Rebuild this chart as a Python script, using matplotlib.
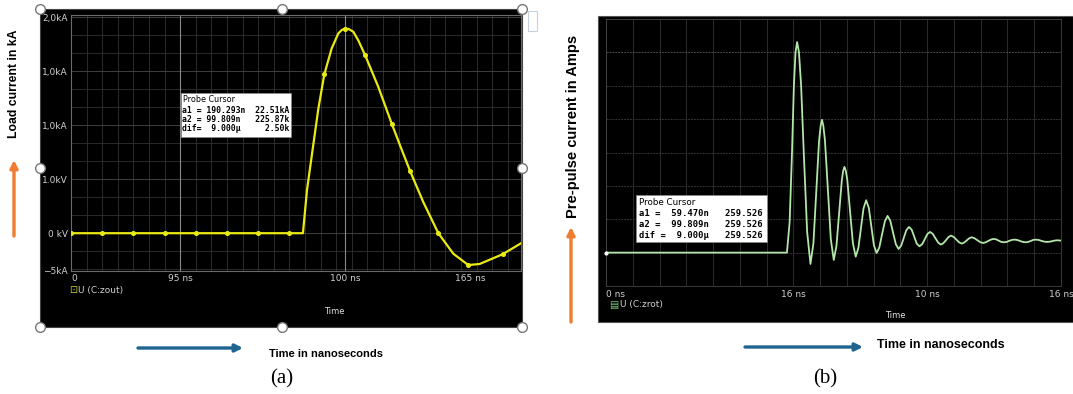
import matplotlib
matplotlib.use("Agg")
import matplotlib.pyplot as plt
from matplotlib.patches import Rectangle

W, H = 1073, 394

# panel (a): load current (grid units)
a_t = [0, 2, 4, 6, 8, 10, 12, 14, 14.87, 15.13, 15.53, 15.86, 16.24, 16.71,
       17.14, 17.35, 17.56, 17.80, 18.10, 18.42, 18.85, 19.70, 20.56, 21.09,
       21.74, 22.58, 23.55, 24.51, 25.47, 26.20, 27.67, 28.83]
a_i = [0, 0, 0, 0, 0, 0, 0, 0, 0, 0.80, 1.63, 2.31, 2.94, 3.42,
       3.70, 3.76, 3.79, 3.78, 3.73, 3.57, 3.30, 2.71, 2.03, 1.63,
       1.15, 0.58, 0.0, -0.38, -0.59, -0.57, -0.39, -0.19]
a_marks = [0, 1, 2, 3, 4, 5, 6, 7, 12, 16, 20, 22, 24, 26, 28, 30]
a_xticks = [0, 7, 17.56, 25.6]
a_xlabels = ["0", "95 ns", "100 ns", "165 ns"]
a_yticks = [4.0, 3.0, 2.0, 1.0, 0.0, -0.70]
a_ylabels = ["2,0kA", "1,0kA", "1,0kA", "1.0kV", "0 kV", "\u22125kA"]

# panel (b): pre-pulse current (grid units)
b_t = [0, 6.76, 6.86, 6.95, 7.02, 7.08, 7.14,
       7.21, 7.29, 7.39, 7.515, 7.64, 7.75, 7.855, 7.96, 8.02, 8.07,
       8.12, 8.18, 8.29, 8.40, 8.51, 8.61, 8.71, 8.81, 8.86, 8.91,
       8.96, 9.015, 9.12, 9.225, 9.33, 9.43, 9.525, 9.62, 9.72,
       9.82, 9.915, 10.01, 10.11, 10.21, 10.315, 10.42, 10.52,
       10.62, 10.725, 10.83, 10.93, 11.03, 11.125, 11.22, 11.32,
       11.42, 11.515, 11.61, 11.71, 11.81, 11.91, 12.01, 12.11,
       12.21, 12.31, 12.41, 12.51, 12.60, 12.70, 12.80, 12.89,
       12.99, 13.09, 13.19, 13.29, 13.38, 13.47, 13.57, 13.66,
       13.77, 13.88, 13.99, 14.10, 14.19, 14.28, 14.38, 14.47,
       14.57, 14.67, 14.77, 14.87, 14.97, 15.06, 15.16, 15.26,
       15.36, 15.47, 15.57, 15.68, 15.77, 15.87, 15.96, 16.06,
       16.16, 16.26, 16.37, 16.47, 16.60, 16.75, 16.87, 17.0]
b_i = [0, 0.0, 0.9, 3.0, 5.0, 6.0, 6.31,
       6.0, 5.0, 2.98, 0.62, -0.34, 0.28, 1.81, 3.34, 3.80, 3.98,
       3.80, 3.37, 1.89, 0.40, -0.22, 0.20, 1.18, 2.16, 2.45, 2.57,
       2.45, 2.18, 1.23, 0.28, -0.12, 0.14, 0.73, 1.32, 1.57,
       1.34, 0.78, 0.22, -0.01, 0.15, 0.55, 0.94, 1.10,
       0.96, 0.60, 0.25, 0.11, 0.21, 0.44, 0.67, 0.77,
       0.69, 0.48, 0.27, 0.19, 0.25, 0.40, 0.56, 0.62,
       0.56, 0.43, 0.30, 0.24, 0.28, 0.37, 0.47, 0.51,
       0.47, 0.39, 0.31, 0.27, 0.30, 0.36, 0.43, 0.46,
       0.43, 0.37, 0.31, 0.29, 0.31, 0.35, 0.39, 0.41,
       0.40, 0.36, 0.32, 0.31, 0.32, 0.35, 0.38, 0.39,
       0.38, 0.35, 0.32, 0.31, 0.32, 0.35, 0.38, 0.39,
       0.38, 0.355, 0.33, 0.32, 0.33, 0.36, 0.37, 0.36]
b_xticks = [0, 7, 12, 17]
b_xlabels = ["0 ns", "16 ns", "10 ns", "16 ns"]

cursor_a = ["a1 = 190.293n  22.51kA", "a2 = 99.809n   225.87k", "dif=  9.000\u00b5     2.50k"]
cursor_b = ["a1 =  59.470n   259.526", "a2 =  99.809n   259.526", "dif =  9.000\u00b5   259.526"]


def px_axes(l, t, r, b, **kw):
    return fig.add_axes([l / W, 1 - b / H, (r - l) / W, (b - t) / H], **kw)


fig = plt.figure(figsize=(W / 100, H / 100), dpi=100)
fig.patch.set_facecolor("white")

# background overlay in pixel coords
bg = px_axes(0, 0, W, H, zorder=-5)
bg.set_xlim(0, W)
bg.set_ylim(H, 0)
bg.axis("off")
bg.add_patch(Rectangle((40, 9), 482, 318, facecolor="black", edgecolor="#444444", lw=0.8))
bg.add_patch(Rectangle((598, 16), 475, 306, facecolor="black", edgecolor="#555555", lw=0.8))
bg.add_patch(Rectangle((528, 11), 9, 20, facecolor="white", edgecolor="#c6d0dc", lw=0.8))

# ---- panel (a)
ax = px_axes(71, 15, 521, 271)
ax.set_facecolor("black")
ax.set_xlim(0, 28.85)
ax.set_ylim(-0.70, 4.04)
for x in range(0, 29):
    ax.axvline(x, color="#333333", lw=0.6, zorder=0)
for k in range(-2, 13):
    ax.axhline(k / 3, color="#4a4a4a" if k % 3 == 0 else "#303030", lw=0.6, zorder=0)
for x in [7, 17.56]:
    ax.axvline(x, color="#8a8a8a", lw=0.8, zorder=0)
ax.plot(a_t, a_i, color="#eaea12", lw=1.6, marker="o", ms=2.6, markevery=a_marks, zorder=3)
ax.set_xticks(a_xticks)
ax.set_xticklabels(a_xlabels)
ax.set_yticks(a_yticks)
ax.set_yticklabels(a_ylabels)
ax.tick_params(length=0, colors="#d0d0d0", labelsize=6.5, pad=2.5)
ax.get_xticklabels()[0].set_ha("left")
for s in ax.spines.values():
    s.set_color("#6a6a6a")
    s.set_linewidth(0.8)

# ---- panel (b)
bx = px_axes(606, 19, 1061, 286)
bx.set_facecolor("black")
bx.set_xlim(0, 17)
bx.set_ylim(-1, 7)
for x in range(0, 18):
    bx.axvline(x, color="#333333", lw=0.6, zorder=0)
for y in range(-1, 8):
    bx.axhline(y, color="#4a4a4a" if y == 6 else "#333333", lw=0.7, ls=(0, (2, 1)), zorder=0)
bx.plot(b_t, b_i, color="#b2e6a8", lw=1.3, zorder=3)
bx.plot(b_t[:1], b_i[:1], ls="none", marker="o", ms=2, color="white", zorder=4, clip_on=False)
bx.set_xticks(b_xticks)
bx.set_xticklabels(b_xlabels)
bx.set_yticks([])
bx.tick_params(length=0, colors="#d0d0d0", labelsize=6.5, pad=3)
bx.get_xticklabels()[0].set_ha("left")
for s in bx.spines.values():
    s.set_color("#444444")
    s.set_linewidth(0.6)

# ---- overlay: labels, arrows, cursor boxes, handles
ov = px_axes(0, 0, W, H, zorder=10)
ov.set_xlim(0, W)
ov.set_ylim(H, 0)
ov.axis("off")
ov.patch.set_alpha(0)

bold = dict(fontweight="bold", color="black", family=["Liberation Sans", "DejaVu Sans"])
ov.text(14, 84, "Load current in kA", rotation=90, ha="center", va="center", fontsize=8.8, **bold)
ov.text(573, 126, "Pre-pulse current in Amps", rotation=90, ha="center", va="center", fontsize=10.5, **bold)
narrow = ["Liberation Sans Narrow", "Liberation Sans", "DejaVu Sans"]
ov.text(326, 354, "Time in nanoseconds", ha="center", va="center", fontsize=8,
        fontweight="bold", family=narrow)
ov.text(941, 345, "Time in nanoseconds", ha="center", va="center", fontsize=9,
        fontweight="bold", family=narrow)

orange = "#ee7d31"
blue = "#1f6391"
for (x0, y0, x1, y1, c) in [(14, 236, 14, 160, orange), (571, 322, 571, 227, orange),
                            (138, 348, 243, 348, blue), (745, 347, 863, 347, blue)]:
    ov.annotate("", xy=(x1, y1), xytext=(x0, y0),
                arrowprops=dict(arrowstyle="-|>", color=c, lw=2.4, mutation_scale=11, shrinkA=0, shrinkB=0))

serif = ["Liberation Serif", "DejaVu Serif"]
ov.text(282, 379, "(a)", ha="center", va="center", fontsize=15, family=serif)
ov.text(825, 379, "(b)", ha="center", va="center", fontsize=15, family=serif)

ov.text(334, 311, "Time", ha="center", va="center", fontsize=6, color="#e0e0e0")
ov.text(895, 316, "Time", ha="center", va="center", fontsize=6, color="#e0e0e0")
ov.text(69, 290, "\u22a1", ha="left", va="center", fontsize=7, color="#c8c820")
ov.text(78, 290, "U (C:zout)", ha="left", va="center", fontsize=6.5, color="#d0d0d0")
ov.text(609, 305, "\u25a4", ha="left", va="center", fontsize=7, color="#7cc878")
ov.text(620, 305, "U (C:zrot)", ha="left", va="center", fontsize=6.5, color="#d0d0d0")

# probe cursor boxes
ov.add_patch(Rectangle((181, 93), 110, 44, facecolor="white", edgecolor="#888888", lw=0.5))
ov.add_patch(Rectangle((636, 195), 131, 47, facecolor="white", edgecolor="#888888", lw=0.5))
ov.text(183, 99, "Probe Cursor", fontsize=5.8, va="center", color="black")
for k, line in enumerate(cursor_a):
    ov.text(182, 110 + 9.3 * k, line, fontsize=5.9, va="center", family="DejaVu Sans Mono",
            fontweight="bold", color="black")
ov.text(639, 202, "Probe Cursor", fontsize=6.3, va="center", color="black")
for k, line in enumerate(cursor_b):
    ov.text(639, 213 + 11 * k, line, fontsize=6.4, va="center", family="DejaVu Sans Mono",
            fontweight="bold", color="black")

# selection handles around panel (a)
hx = [40, 282, 522, 40, 522, 40, 282, 522]
hy = [9, 9, 9, 168, 168, 327, 327, 327]
ov.plot(hx, hy, ls="none", marker="o", ms=7, mfc="white", mec="#777777", mew=1.0)

fig.savefig("out.png", dpi=100, facecolor="white")
